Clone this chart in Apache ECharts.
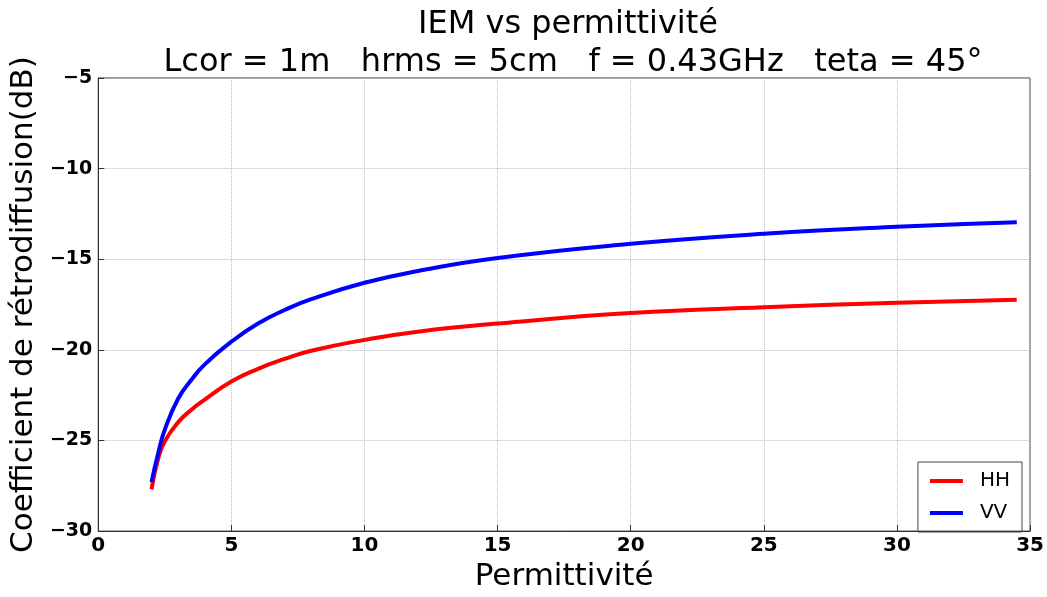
<!DOCTYPE html>
<html>
<head>
<meta charset="utf-8">
<script src="https://cdn.jsdelivr.net/npm/echarts@6/dist/echarts.min.js"></script>
<style>
html, body { margin: 0; padding: 0; background: #fff; }
#main { width: 1047px; height: 597px; }
</style>
</head>
<body>
<div id="main"></div>
<script>
var permittivite = [2, 2.25, 2.5, 3, 3.5, 4, 5, 6, 7, 8, 10, 12, 15, 20, 25, 30, 34.5];
var hh = [-27.7, -26.0, -25.05, -24.0, -23.3, -22.75, -21.75, -21.05, -20.5, -20.05, -19.45, -19.0, -18.55, -17.97, -17.65, -17.4, -17.24];
var vv = [-27.3, -25.7, -24.4, -22.7, -21.65, -20.8, -19.55, -18.55, -17.8, -17.2, -16.3, -15.65, -14.93, -14.15, -13.6, -13.21, -12.96];

var pairs = function (xs, ys) {
    var res = [];
    for (var i = 0; i < xs.length; i++) {
        res.push([xs[i], ys[i]]);
    }
    return res;
};

var myChart = echarts.init(document.getElementById('main'));
var font = 'DejaVu Sans';

var option = {
    backgroundColor: '#fff',
    animation: false,
    title: [{
        text: 'IEM vs permittivité',
        left: 563, top: 4, textAlign: 'center',
        textStyle: { fontFamily: font, fontSize: 32, fontWeight: 'normal', color: '#000' }
    }, {
        text: 'Lcor = 1m   hrms = 5cm   f = 0.43GHz   teta = 45°',
        left: 568, top: 42, textAlign: 'center',
        textStyle: { fontFamily: font, fontSize: 32, fontWeight: 'normal', color: '#000' }
    }],
    legend: {
        orient: 'vertical',
        right: 25,
        bottom: 65,
        padding: [9, 12, 9, 12],
        itemGap: 12,
        itemWidth: 33,
        itemHeight: 4,
        icon: 'rect',
        borderColor: '#444',
        borderWidth: 1,
        borderRadius: 0,
        textStyle: { fontFamily: font, fontSize: 20, color: '#000', padding: [0, 0, 0, 12] },
        data: ['HH', 'VV']
    },
    grid: {
        left: 94, right: 15, top: 78, bottom: 54,
        show: true,
        borderColor: '#333',
        borderWidth: 1
    },
    xAxis: {
        type: 'value',
        min: 0, max: 35, interval: 5,
        name: 'Permittivité',
        nameLocation: 'middle',
        nameGap: 22,
        nameTextStyle: { fontFamily: font, fontSize: 31, color: '#000', verticalAlign: 'top' },
        axisLine: { show: true, lineStyle: { color: '#333' } },
        axisTick: { show: true, inside: true, length: 6, lineStyle: { color: '#333' } },
        axisLabel: { fontFamily: font, fontSize: 20, fontWeight: 'bold', color: '#000', margin: 5 },
        splitLine: { show: true, lineStyle: { type: 'dotted', color: '#bbb' } }
    },
    yAxis: {
        type: 'value',
        min: -30, max: -5, interval: 5,
        name: 'Coefficient de rétrodiffusion(dB)',
        nameLocation: 'middle',
        nameGap: 44,
        nameTextStyle: { fontFamily: font, fontSize: 31, color: '#000' },
        axisLine: { show: true, lineStyle: { color: '#333' } },
        axisTick: { show: true, inside: true, length: 6, lineStyle: { color: '#333' } },
        axisLabel: {
            fontFamily: font, fontSize: 19, fontWeight: 'bold', color: '#000', margin: 6,
            formatter: function (v) { return String(v).replace('-', '\u2212'); }
        },
        splitLine: { show: true, lineStyle: { type: 'dotted', color: '#bbb' } }
    },
    series: [{
        name: 'HH',
        type: 'line',
        smooth: 0.5,
        showSymbol: false,
        itemStyle: { color: '#ff0000' },
        lineStyle: { color: '#ff0000', width: 4 },
        data: pairs(permittivite, hh)
    }, {
        name: 'VV',
        type: 'line',
        smooth: 0.5,
        showSymbol: false,
        itemStyle: { color: '#0000ff' },
        lineStyle: { color: '#0000ff', width: 4 },
        data: pairs(permittivite, vv)
    }]
};

myChart.setOption(option);
</script>
</body>
</html>
